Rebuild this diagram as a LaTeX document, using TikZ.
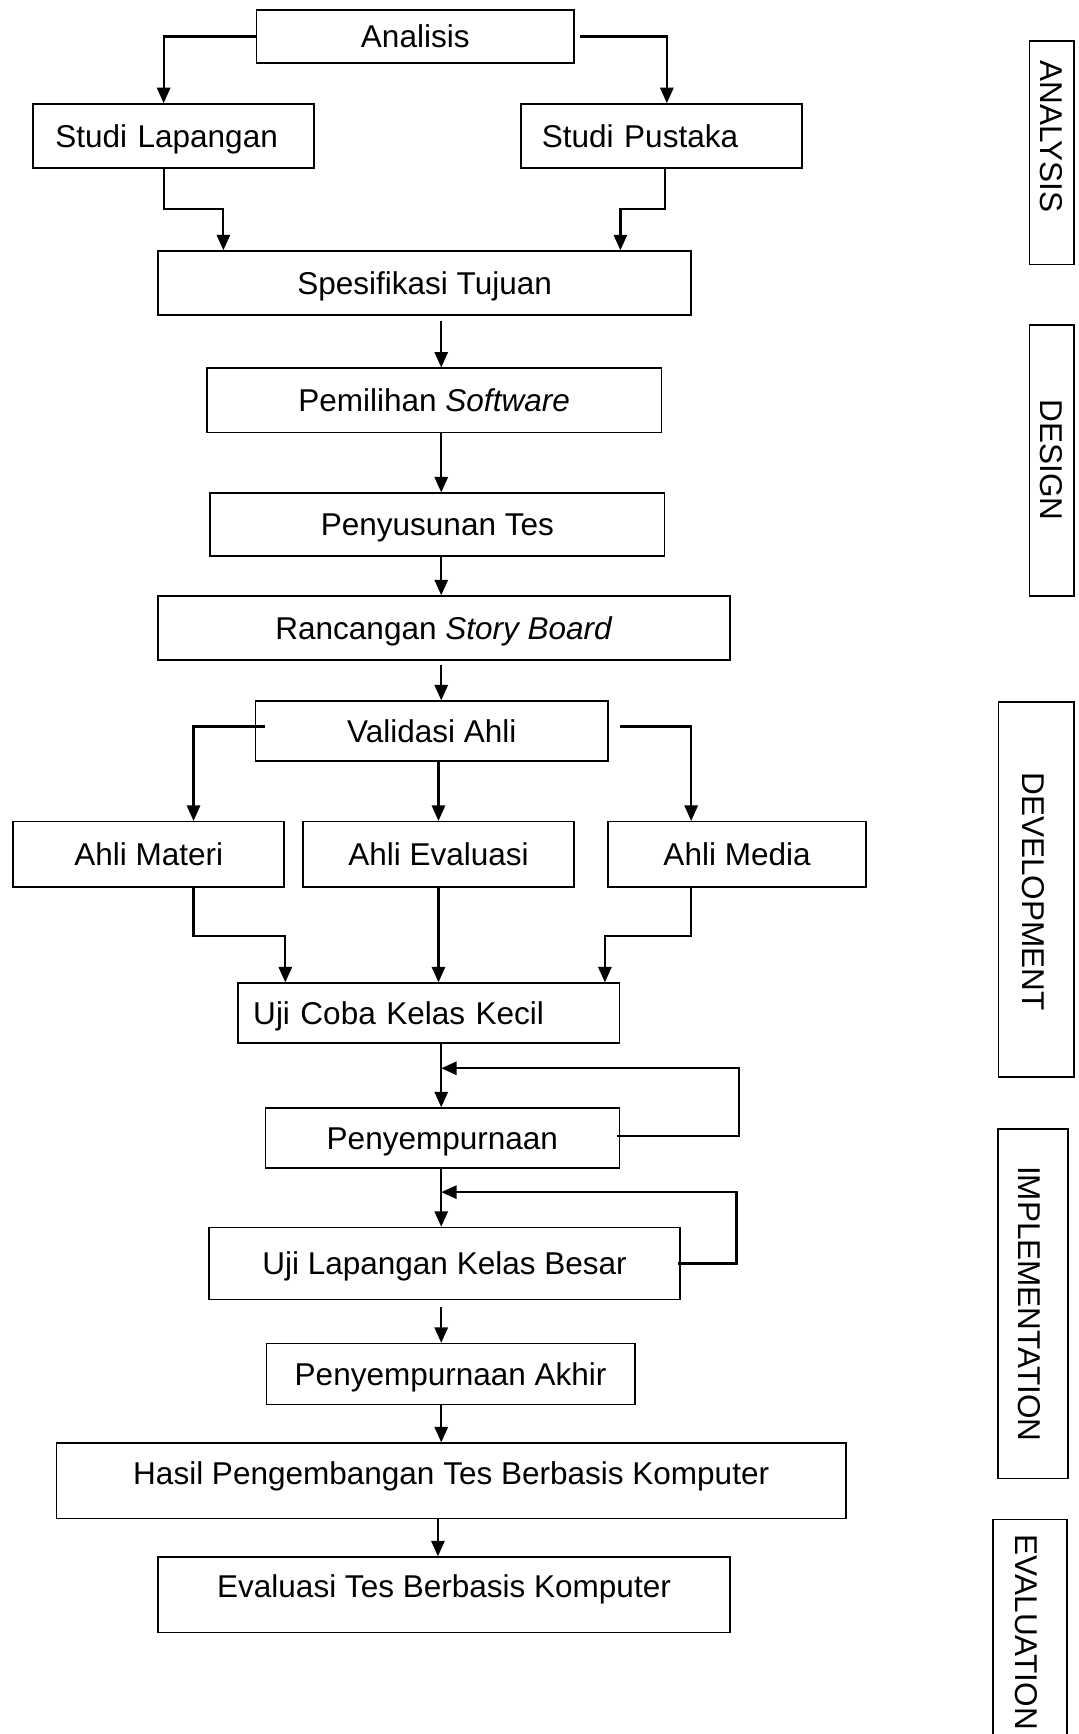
\documentclass[tikz,border=0pt]{standalone}
\usepackage{fontspec}
\setmainfont{Liberation Sans}
\usetikzlibrary{arrows.meta,calc}
\begin{document}
\begin{tikzpicture}[x=1pt,y=-1pt,
  box/.style={draw, line width=1.4pt, inner sep=0pt, text height=20pt, text depth=0pt,
              font=\fontsize{28.5}{34}\selectfont},
  lbox/.style={box, align=left, text width=#1},
  phase/.style={draw, line width=1.4pt, inner sep=0pt},
  lab/.style={rotate=-90, inner sep=0pt, text height=20pt, text depth=0pt,
              font=\fontsize{28.5}{34}\selectfont},
  arr/.style={line width=2pt, -{Triangle[length=14pt,width=12pt]}}]
\useasboundingbox (0,0) rectangle (975,1568);
\clip (0,0) rectangle (975,1568);

% spine coordinates
\coordinate (sp) at (399,0);
\coordinate (sp2) at (396,0);

% main boxes
\node[box, minimum width=287pt, minimum height=48pt] (ana) at (375.5,33) {Analisis};
\node[lbox=214pt, inner xsep=20pt, minimum width=254pt, minimum height=58pt] (slap) at (157,123) {Studi Lapangan};
\node[lbox=216pt, inner xsep=19pt, minimum width=254pt, minimum height=58pt] (spus) at (598,123) {Studi Pustaka};
\node[box, minimum width=482pt, minimum height=58pt] (spes) at (384,256) {Spesifikasi Tujuan};
\node[box, minimum width=411pt, minimum height=58pt] (pem) at (392.5,362) {Pemilihan \textit{Software}};
\node[box, minimum width=411pt, minimum height=57pt] (pen) at (395.5,474.5) {Penyusunan Tes};
\node[box, minimum width=517pt, minimum height=58pt] (ran) at (401.5,568) {Rancangan \textit{Story Board}};
\node[box, minimum width=319pt, minimum height=54pt] (val) at (390.5,661) {Validasi Ahli};
\node[box, minimum width=245pt, minimum height=59pt] (mat) at (134.5,772.5) {Ahli Materi};
\node[box, minimum width=245pt, minimum height=59pt] (eva) at (396.5,772.5) {Ahli Evaluasi};
\node[box, minimum width=233pt, minimum height=59pt] (med) at (666.5,772.5) {Ahli Media};
\node[lbox=317pt, inner xsep=14pt, minimum width=345pt, minimum height=54pt] (ujc) at (387.5,916) {Uji Coba Kelas Kecil};
\node[box, minimum width=320pt, minimum height=54pt] (peny) at (400,1029) {Penyempurnaan};
\node[box, minimum width=426pt, minimum height=65pt] (ujl) at (402,1142.5) {Uji Lapangan Kelas Besar};
\node[box, minimum width=333pt, minimum height=55pt] (pak) at (407.5,1242.5) {Penyempurnaan Akhir};
\node[box, text depth=14pt, minimum width=714pt, minimum height=68pt] (has) at (408,1339) {Hasil Pengembangan Tes Berbasis Komputer};
\node[box, text depth=14pt, minimum width=517pt, minimum height=68pt] (evl) at (401.5,1442) {Evaluasi Tes Berbasis Komputer};

% phase boxes
\node[phase, minimum width=40pt, minimum height=202pt] (pA) at (951,138) {};
\node[lab] (tA) at (951,123.5) {ANALYSIS};
\node[phase, minimum width=40pt, minimum height=245pt] (pD) at (951,416.5) {};
\node[lab] (tD) at (951,416) {DESIGN};
\node[phase, minimum width=68pt, minimum height=339pt] (pV) at (937,804.5) {};
\node[lab] (tV) at (935,806) {DEVELOPMENT};
\node[phase, minimum width=63pt, minimum height=316pt] (pI) at (934,1179) {};
\node[lab] (tI) at (931,1179) {IMPLEMENTATION};
\node[phase, minimum width=67pt, minimum height=236pt] (pE) at (931.5,1492) {};
\node[lab] (tE) at (928.5,1476) {EVALUATION};

% connectors
\draw[arr] (ana.west) -| ([xshift=-9pt]slap.north);
\draw[arr] ([xshift=5pt]ana.east) -| ([xshift=5pt]spus.north);
\draw[arr] ([xshift=-9pt]slap.south) -- ++(0,36) -| ([xshift=-182pt]spes.north);
\draw[arr] ([xshift=3pt]spus.south) -- ++(0,36) -| ([xshift=177pt]spes.north);
\draw[arr] ($(spes.south -| sp)+(0,5)$) -- (pem.north -| sp);
\draw[arr] (pem.south -| sp) -- (pen.north -| sp);
\draw[arr] (pen.south -| sp) -- (ran.north -| sp);
\draw[arr] ($(ran.south -| sp)+(0,4)$) -- (val.north -| sp);
\draw[arr] ($(val.west)+(9,-4)$) -| ([xshift=40.5pt]mat.north);
\draw[arr] ($(val.east)+(10,-4)$) -| ([xshift=-41.5pt]med.north);
\draw[arr] (val.south -| eva.north) -- (eva.north);
\draw[arr] ([xshift=40.5pt]mat.south) -- ++(0,44) -| ([xshift=-129.5pt]ujc.north);
\draw[arr] (eva.south) -- (ujc.north -| eva.south);
\draw[arr] ([xshift=-41.5pt]med.south) -- ++(0,44) -| ([xshift=159.5pt]ujc.north);
\draw[arr] (ujc.south -| sp) -- (peny.north -| sp);
\coordinate (fb1) at (668,966);
\draw[arr] ($(peny.east)+(-3,-2)$) -| (fb1) -- (fb1 -| sp);
\draw[arr] (peny.south -| sp) -- (ujl.north -| sp);
\coordinate (fb2) at (666,1078);
\draw[arr] ($(ujl.east)+(-3,0)$) -| (fb2) -- (fb2 -| sp);
\draw[arr] ($(ujl.south -| sp)+(0,6)$) -- (pak.north -| sp);
\draw[arr] (pak.south -| sp) -- (has.north -| sp);
\draw[arr] (has.south -| sp2) -- (evl.north -| sp2);
\end{tikzpicture}
\end{document}
